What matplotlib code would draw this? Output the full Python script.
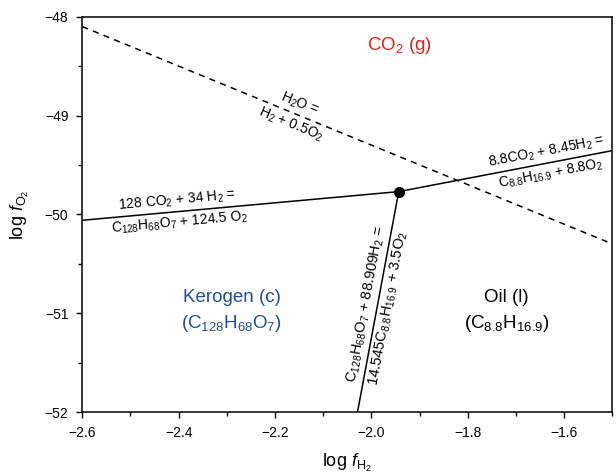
import numpy as np
import matplotlib
matplotlib.use("Agg")
import matplotlib.pyplot as plt
from matplotlib.ticker import MultipleLocator

plt.rcParams['font.family'] = ['Liberation Sans', 'DejaVu Sans']
plt.rcParams['mathtext.fontset'] = 'custom'
plt.rcParams['mathtext.rm'] = 'Liberation Sans'
plt.rcParams['mathtext.it'] = 'Liberation Sans:italic'
plt.rcParams['mathtext.bf'] = 'Liberation Sans:bold'

# boundary lines (log fH2, log fO2)
h2o_x = [-2.6, -1.5]
h2o_y = [-48.10, -50.30]
ker_co2_x = [-2.6, -1.9435]
ker_co2_y = [-50.06, -49.77]
oil_co2_x = [-1.9435, -1.5]
oil_co2_y = [-49.77, -49.355]
ker_oil_x = [-1.9435, -2.029]
ker_oil_y = [-49.77, -52.0]
triple_x = [-1.9435]
triple_y = [-49.77]

xticks = [-2.6, -2.4, -2.2, -2.0, -1.8, -1.6]
yticks = [-52, -51, -50, -49, -48]

fig = plt.figure(figsize=(6.16, 4.74), dpi=100)
ax = fig.add_axes([0.1336, 0.1308, 0.8607, 0.834])
ax.set_xlim(-2.6, -1.5)
ax.set_ylim(-52, -48)

ax.plot(h2o_x, h2o_y, color='black', lw=1.1, ls=(0, (4, 3.5)))
ax.plot(ker_co2_x, ker_co2_y, color='black', lw=1.1)
ax.plot(oil_co2_x, oil_co2_y, color='black', lw=1.1)
ax.plot(ker_oil_x, ker_oil_y, color='black', lw=1.1)
ax.plot(triple_x, triple_y, 'o', color='black', ms=7, zorder=5)

ax.set_xticks(xticks)
ax.set_yticks(yticks)
ax.set_xticklabels([f'\u2212{abs(v):.1f}' for v in xticks])
ax.set_yticklabels([f'\u2212{abs(v)}' for v in yticks])
ax.xaxis.set_minor_locator(MultipleLocator(0.1))
ax.yaxis.set_minor_locator(MultipleLocator(0.5))
ax.tick_params(which='major', direction='out', length=4, width=1, labelsize=10, pad=6)
ax.tick_params(which='minor', direction='out', length=3, width=1)
for s in ax.spines.values():
    s.set_linewidth(1.1)

ax.set_xlabel(r'log $f_{\mathrm{H}_2}$', fontsize=13, labelpad=9)
ax.set_ylabel(r'log $f_{\mathrm{O}_2}$', fontsize=13, labelpad=10)


def angle_of(xs, ys):
    p = ax.transData.transform(np.column_stack([xs, ys]))
    d = p[1] - p[0]
    a = np.degrees(np.arctan2(d[1], d[0]))
    if a > 90:
        a -= 180
    if a < -90:
        a += 180
    return a


def line_label(x, y, xs, ys, top, bottom, gap=2.5, fs=10):
    a = angle_of(xs, ys)
    r = np.radians(a)
    nx, ny = -np.sin(r), np.cos(r)
    ax.annotate(top, xy=(x, y), xytext=(nx * gap, ny * gap), textcoords='offset points',
                rotation=a, rotation_mode='anchor', ha='center', va='bottom', fontsize=fs)
    ax.annotate(bottom, xy=(x, y), xytext=(-nx * gap, -ny * gap), textcoords='offset points',
                rotation=a, rotation_mode='anchor', ha='center', va='top', fontsize=fs)


fig.canvas.draw()
hx = -2.158
line_label(hx, np.interp(hx, h2o_x, h2o_y), h2o_x, h2o_y,
           r'H$_2$O =', r'H$_2$ + 0.5O$_2$', gap=2)
kx = -2.401
line_label(kx, np.interp(kx, ker_co2_x, ker_co2_y), ker_co2_x, ker_co2_y,
           r'128 CO$_2$ + 34 H$_2$ =', r'C$_{128}$H$_{68}$O$_7$ + 124.5 O$_2$', gap=2)
ox = -1.633
line_label(ox, np.interp(ox, oil_co2_x, oil_co2_y), oil_co2_x, oil_co2_y,
           r'8.8CO$_2$ + 8.45H$_2$ =', r'C$_{8.8}$H$_{16.9}$ + 8.8O$_2$', gap=2)
vy = -50.93
vx = np.interp(vy, ker_oil_y[::-1], ker_oil_x[::-1])
line_label(vx, vy, ker_oil_x[::-1], ker_oil_y[::-1],
           r'C$_{128}$H$_{68}$O$_7$ + 88.909H$_2$ =', r'14.545C$_{8.8}$H$_{16.9}$ + 3.5O$_2$',
           gap=2, fs=10.5)

ax.text(-1.941, -48.29, r'CO$_2$ (g)', color='#e3201b', fontsize=13.5, ha='center', va='center')
ax.text(-2.29, -50.84, 'Kerogen (c)', color='#1f4e9e', fontsize=13.5, ha='center', va='center')
ax.text(-2.29, -51.10, r'(C$_{128}$H$_{68}$O$_7$)', color='#1f4e9e', fontsize=13.5, ha='center', va='center')
ax.text(-1.72, -50.84, 'Oil (l)', color='black', fontsize=13.5, ha='center', va='center')
ax.text(-1.72, -51.10, r'(C$_{8.8}$H$_{16.9}$)', color='black', fontsize=13.5, ha='center', va='center')

fig.savefig('out.png', dpi=100)
